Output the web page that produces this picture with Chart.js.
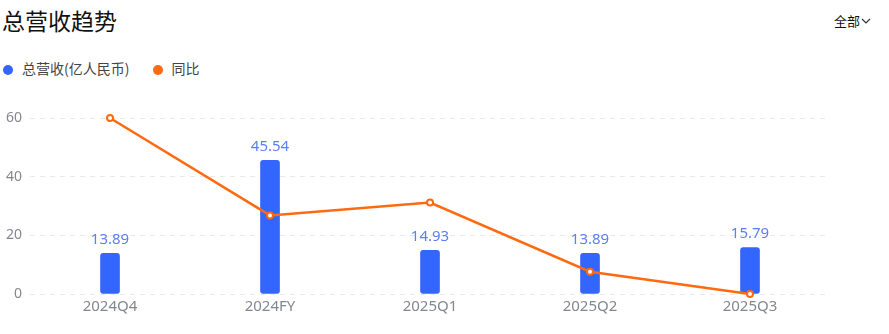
<!DOCTYPE html>
<html>
<head>
<meta charset="utf-8">
<script src="https://cdn.jsdelivr.net/npm/chart.js@4.4.0/dist/chart.umd.min.js"></script>
<style>
  body { margin: 0; background: #fff; font-family: "Noto Sans", "Noto Sans CJK SC", sans-serif; }
  #wrap { position: relative; width: 889px; height: 334px; overflow: hidden; }
  #title { position: absolute; left: 2px; top: 4px; font-size: 23px; color: #111; font-family: "Noto Sans CJK SC", sans-serif; line-height: 32px; }
  #more { position: absolute; left: 834px; top: 11px; font-size: 13px; color: #111; font-family: "Noto Sans CJK SC", sans-serif; }
  #more svg { vertical-align: 2px; margin-left: 1px; }
  #legend { position: absolute; left: 3px; top: 59px; font-size: 14px; color: #444; font-family: "Noto Sans CJK SC", sans-serif; line-height: 18px; }
  #legend span.dot { display: inline-block; width: 10px; height: 10px; border-radius: 50%; margin-right: 9px; vertical-align: -1px; }
  #legend span.item { margin-right: 20px; }
  #chartBox { position: absolute; left: -7px; top: 95px; width: 896px; height: 239px; }
</style>
</head>
<body>
<div id="wrap">
  <div id="title">总营收趋势</div>
  <div id="more">全部<svg width="10" height="6" viewBox="0 0 10 6"><path d="M1 1 L5 5 L9 1" fill="none" stroke="#333" stroke-width="1.2"/></svg></div>
  <div id="legend">
    <span class="item"><span class="dot" style="background:#3366ff"></span>总营收(亿人民币)</span>
    <span class="item"><span class="dot" style="background:#ff6a10"></span>同比</span>
  </div>
  <div id="chartBox"><canvas id="trend_chart"></canvas></div>
</div>
<script>
var categories = ['2024Q4', '2024FY', '2025Q1', '2025Q2', '2025Q3'];
var revenue = [13.89, 45.54, 14.93, 13.89, 15.79];
var yoy = [60, 26.8, 31.2, 7.6, 0];
var yTicks = [0, 20, 40, 60];

// draws the number above every bar
var barLabels = {
  id: 'barLabels',
  afterDatasetsDraw: function(chart)
  {
    var ctx = chart.ctx;
    var meta = chart.getDatasetMeta(1);
    ctx.save();
    ctx.font = '15px "Noto Sans", sans-serif';
    ctx.fillStyle = '#5a7ff6';
    ctx.textAlign = 'center';
    ctx.textBaseline = 'bottom';
    meta.data.forEach(function(bar, i)
    {
      ctx.fillText(revenue[i].toFixed(2), bar.x, bar.y - 6);
    });
    ctx.restore();
  }
};

var trendCanvas = document.getElementById('trend_chart').getContext('2d');

var trendChart = new Chart(trendCanvas,
{
  type: 'bar',
  data:
  {
    labels: categories,
    datasets:
    [{
      type: 'line',
      label: '同比',
      data: yoy,
      borderColor: '#ff6a10',
      borderWidth: 2.5,
      pointRadius: 3,
      pointBorderWidth: 2,
      pointBackgroundColor: '#ffffff',
      pointBorderColor: '#ff6a10',
      tension: 0,
      clip: false,
      order: 0
    },
    {
      label: '总营收(亿人民币)',
      data: revenue,
      backgroundColor: '#3366ff',
      barThickness: 19,
      borderRadius: 3,
      borderSkipped: false,
      order: 1
    }]
  },
  options:
  {
    responsive: true,
    maintainAspectRatio: false,
    animation: false,
    layout: { padding: { left: 5, right: 59, top: 23, bottom: 14 } },
    plugins:
    {
      legend: { display: false },
      tooltip: { enabled: false }
    },
    scales:
    {
      x:
      {
        grid: { display: false, drawTicks: false },
        border: { display: false },
        ticks: { color: '#85878f', padding: 4, font: { size: 15, family: '"Noto Sans", sans-serif' } }
      },
      y:
      {
        min: 0,
        max: 60,
        afterBuildTicks: function(axis) { axis.ticks = yTicks.map(function(v) { return { value: v }; }); },
        grid: { color: '#e9e9ec', drawTicks: false, lineWidth: 1 },
        border: { display: false, dash: [5, 5] },
        ticks: { color: '#85878f', padding: 8, font: { size: 14, family: '"Noto Sans", sans-serif' } }
      }
    }
  },
  plugins: [barLabels]
});
</script>
</body>
</html>
